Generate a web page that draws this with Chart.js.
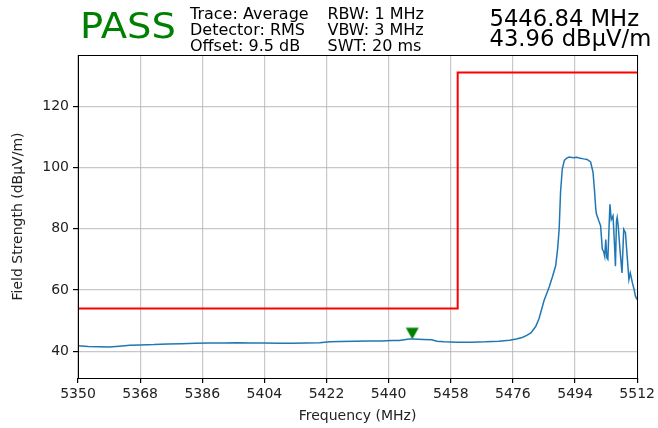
<!DOCTYPE html>
<html>
<head>
<meta charset="utf-8">
<script src="https://cdn.jsdelivr.net/npm/chart.js@4"></script>
<style>
  html, body { margin: 0; padding: 0; background: #fff; }
  #wrap { position: relative; width: 658px; height: 428px; overflow: hidden; }
  #c { position: absolute; left: 0; top: 0; }
  .t { position: absolute; font-family: "DejaVu Sans"; white-space: pre; color: #000; }
</style>
</head>
<body>
<div id="wrap">
  <canvas id="c" width="658" height="428"></canvas>
  <div class="t" style="left:80px;top:8px;font-size:36px;line-height:36px;color:#008000;transform-origin:0 0;transform:scaleX(1.07);">PASS</div>
  <div class="t" style="left:190px;top:5.7px;font-size:16px;line-height:16.2px;">Trace: Average
Detector: RMS
Offset: 9.5 dB</div>
  <div class="t" style="left:327.5px;top:5.7px;font-size:16px;line-height:16.2px;">RBW: 1 MHz
VBW: 3 MHz
SWT: 20 ms</div>
  <div class="t" style="left:489.5px;top:7.6px;font-size:22.7px;line-height:20.7px;">5446.84 MHz
43.96 dBµV/m</div>
</div>
<script>
// ---- data ----
const traceFreq = [
  5350, 5353, 5356, 5359, 5362, 5365, 5368, 5372, 5376, 5380,
  5384, 5388, 5392, 5396, 5400, 5404, 5408, 5412, 5416, 5420,
  5423, 5426, 5430, 5434, 5438, 5441, 5443, 5444.5, 5446, 5447,
  5450, 5452.5, 5454, 5456, 5460, 5464, 5468, 5472, 5475, 5477,
  5478.7, 5480, 5481.2, 5482.6, 5483.6, 5485, 5486.5, 5487.5, 5488.4, 5489.0,
  5489.4, 5489.8, 5490.3, 5490.9, 5491.5, 5492.3, 5493.5, 5494.5, 5495.2, 5496.5,
  5497.5, 5498.5, 5499.2, 5499.6, 5500.0, 5500.2, 5500.9, 5501.4, 5501.9, 5502.3,
  5502.6, 5502.9, 5503.2, 5503.5, 5504.1, 5504.5, 5505.0, 5505.4, 5505.7, 5506.0,
  5506.2, 5506.5, 5507.0, 5507.6, 5508.1, 5508.6, 5509.1, 5509.6, 5510.0, 5510.6,
  5511.1, 5511.5, 5512.0
];
const traceLevel = [
  41.8, 41.6, 41.5, 41.4, 41.7, 42.0, 42.1, 42.2, 42.4, 42.5,
  42.6, 42.7, 42.7, 42.8, 42.7, 42.7, 42.6, 42.6, 42.7, 42.8,
  43.1, 43.2, 43.3, 43.4, 43.4, 43.5, 43.5, 43.8, 44.0, 44.0,
  43.9, 43.8, 43.3, 43.1, 43.0, 43.0, 43.1, 43.3, 43.6, 44.0,
  44.5, 45.2, 46.0, 48.1, 50.8, 56.5, 61.0, 64.5, 68.0, 74.0,
  80.0, 92.0, 99.5, 102.3, 103.0, 103.4, 103.2, 103.3, 103.1, 102.8,
  102.6, 101.8, 98.5, 93.0, 86.5, 84.8, 82.5, 81.0, 73.3, 72.5,
  71.0, 76.5, 70.5, 70.0, 88.0, 83.0, 84.2, 75.5, 67.8, 82.5,
  83.7, 81.0, 73.3, 65.6, 79.8, 78.7, 71.0, 63.4, 65.6, 62.4,
  60.2, 58.0, 56.9
];
const limitFreq = [5350, 5460, 5460, 5512];
const limitLevel = [54, 54, 131, 131];
const markerFreq = [5446.84];
const markerLevel = [43.96];
const xTicks = [5350, 5368, 5386, 5404, 5422, 5440, 5458, 5476, 5494, 5512];
const yTicks = [40, 60, 80, 100, 120];
const xRange = [5350, 5512];
const yRange = [31.3, 136.7];

// ---- marker glyph: downward triangle whose tip sits at the point ----
const tri = document.createElement('canvas');
tri.width = 14; tri.height = 30;
(function () {
  const g = tri.getContext('2d');
  g.fillStyle = '#008000';
  g.beginPath();
  g.moveTo(0.5, 3.5);
  g.lineTo(13.5, 3.5);
  g.lineTo(7, 15);
  g.closePath();
  g.fill();
})();

const frame = {
  id: 'frame',
  afterDatasetsDraw(chart) {
    const a = chart.chartArea, ctx = chart.ctx;
    ctx.save();
    ctx.strokeStyle = '#000';
    ctx.lineWidth = 1;
    ctx.strokeRect(Math.round(a.left) + 0.5, Math.round(a.top) + 0.5,
      Math.round(a.right - a.left), Math.round(a.bottom - a.top));
    ctx.restore();
  }
};

const font = { family: 'DejaVu Sans', size: 14 };

new Chart(document.getElementById('c'), {
  type: 'scatter',
  data: {
    datasets: [
      {
        label: 'Trace',
        data: traceFreq.map((f, i) => ({ x: f, y: traceLevel[i] })),
        showLine: true, borderColor: '#1f77b4', borderWidth: 1.5,
        pointRadius: 0, tension: 0, order: 3
      },
      {
        label: 'Limit',
        data: limitFreq.map((f, i) => ({ x: f, y: limitLevel[i] })),
        showLine: true, borderColor: '#ff0000', borderWidth: 2,
        pointRadius: 0, tension: 0, order: 2
      },
      {
        label: 'Marker',
        data: markerFreq.map((f, i) => ({ x: f, y: markerLevel[i] })),
        pointStyle: tri, pointRadius: 7, order: 1
      }
    ]
  },
  options: {
    responsive: false,
    animation: false,
    devicePixelRatio: 1,
    layout: { padding: { top: 55, right: 19, left: 0, bottom: 0 } },
    plugins: { legend: { display: false }, tooltip: { enabled: false } },
    scales: {
      x: {
        type: 'linear', min: xRange[0], max: xRange[1],
        afterBuildTicks: s => { s.ticks = xTicks.map(v => ({ value: v })); },
        afterFit: s => { s.height = 50; },
        ticks: { font, color: '#222', padding: 3, maxRotation: 0, autoSkip: false,
                 callback: v => String(v) },
        grid: { color: 'rgba(176,176,176,0.7)', lineWidth: 1.2, tickLength: 5,
                tickColor: '#000', drawTicks: true },
        border: { display: false },
        title: { display: true, text: 'Frequency (MHz)', font, color: '#222',
                 padding: { top: 0, bottom: 3 } }
      },
      y: {
        type: 'linear', min: yRange[0], max: yRange[1],
        afterBuildTicks: s => { s.ticks = yTicks.map(v => ({ value: v })); },
        afterFit: s => { s.width = 78; },
        ticks: { font, color: '#222', padding: 4, callback: v => String(v) },
        grid: { color: 'rgba(176,176,176,0.7)', lineWidth: 1.2, tickLength: 5,
                tickColor: '#000', drawTicks: true },
        border: { display: false },
        title: { display: true, text: 'Field Strength (dBµV/m)', font, color: '#222',
                 padding: { top: 10, bottom: 0 } }
      }
    }
  },
  plugins: [frame]
});
</script>
</body>
</html>
